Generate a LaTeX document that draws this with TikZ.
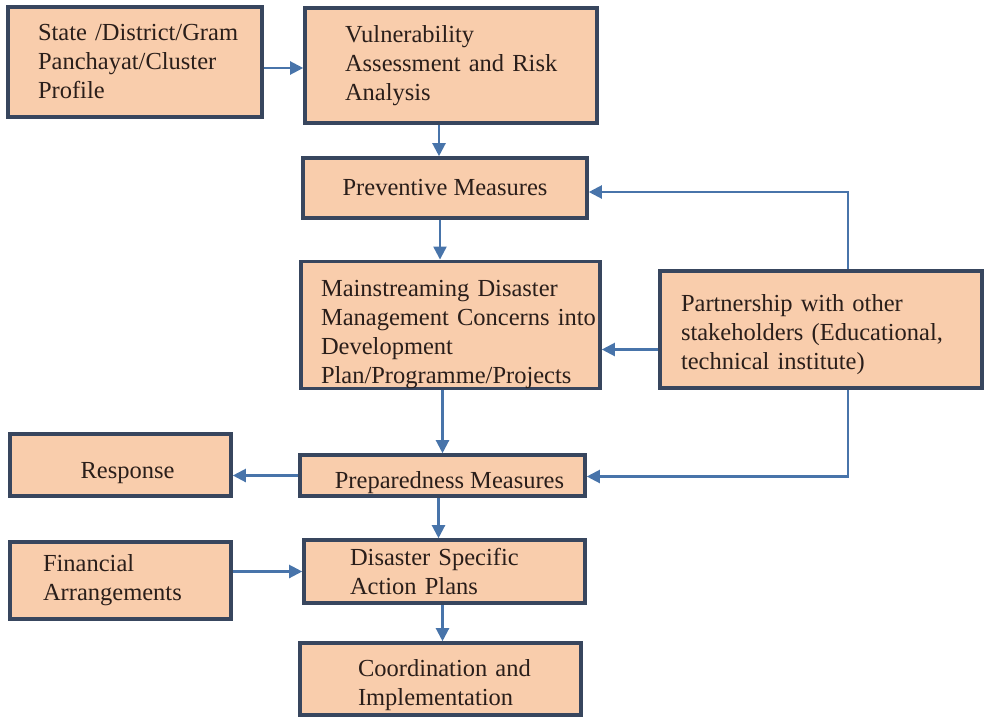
\documentclass[tikz,border=0pt]{standalone}
\usepackage{fontspec}
\setmainfont{Liberation Serif}
\usetikzlibrary{arrows.meta}
\definecolor{boxpeach}{RGB}{249,205,172}
\definecolor{edgeslate}{RGB}{56,70,94}
\definecolor{linkblue}{RGB}{72,116,170}
\definecolor{inkbrown}{RGB}{42,30,26}

\begin{document}
\begin{tikzpicture}[x=1pt, y=-1pt, font=\fontsize{24.5}{29}\selectfont,
  blk/.style={draw=edgeslate, fill=boxpeach, text=inkbrown, line width=3.6pt, inner sep=0pt, align=left},
  lpad/.style={execute at begin node={\leftskip=#1}},
  drop/.style={execute at begin node={\rule{0pt}{#1}}},
  arr/.style={draw=linkblue, line width=2.2pt, -{Triangle[length=13pt,width=13pt]}}]
\useasboundingbox (0,0) rectangle (984,718);
\node[blk, minimum height=110pt, text width=254pt, lpad=30pt] (profile) at (135,62)
  {State /District/Gram\\Panchayat/Cluster\\Profile};
\node[blk, minimum height=115pt, text width=292pt, lpad=40pt] (vuln) at (451,65.5)
  {Vulnerability\\Assessment and Risk\\Analysis};
\node[blk, minimum width=284pt, minimum height=60pt, align=center] (prev) at (445,188)
  {Preventive Measures};
\node[blk, minimum height=120pt, text width=299pt, lpad=20pt, drop=35pt] (main) at (450.5,325)
  {Mainstreaming Disaster\\Management Concerns into\\Development\\Plan/Programme/Projects};
\node[blk, minimum height=117pt, text width=322pt, lpad=21pt, drop=28pt] (partner) at (821,329.5)
  {Partnership with other\\stakeholders (Educational,\\technical institute)};
\node[blk, minimum width=221pt, minimum height=62pt, align=center, text height=26pt, text depth=0pt] (resp) at (120.5,465)
  {\hspace*{14pt}Response};
\node[blk, minimum width=285pt, minimum height=41pt, align=center, text height=25pt, text depth=0pt] (prep) at (442.5,475.5)
  {\hspace*{14pt}Preparedness Measures};
\node[blk, minimum height=77pt, text width=221pt, lpad=33pt] (fin) at (120.5,580.5)
  {Financial\\Arrangements};
\node[blk, minimum height=63pt, text width=281pt, lpad=46pt] (dsap) at (444.5,571.5)
  {Disaster Specific\\Action Plans};
\node[blk, minimum height=72pt, text width=281pt, lpad=58pt, drop=29pt] (coord) at (440.5,679)
  {Coordination and\\Implementation};
\draw[arr] ([yshift=-6pt]profile.east) -- ([yshift=-6pt]profile.east -| vuln.west);
\draw[arr] ([xshift=-6pt]vuln.south -| prev.north) -- ([xshift=-6pt]prev.north);
\draw[arr] ([xshift=-5pt]prev.south) -- ([xshift=-5pt]prev.south |- main.north);
\draw[arr] (main.south -| prep.north) -- (prep.north);
\draw[arr] ([xshift=-6pt]prep.south -| dsap.north) -- ([xshift=-6pt]dsap.north);
\draw[arr] ([xshift=-2pt]dsap.south) -- ([xshift=-2pt]dsap.south |- coord.north);
\draw[arr] (prep.west) -- (prep.west -| resp.east);
\draw[arr] (dsap.west -| fin.east) -- (dsap.west);
\draw[arr] ([yshift=-20pt]partner.west) -- ([yshift=-20pt]partner.west -| main.east);
\draw[arr] ([xshift=27pt]partner.north) |- ([yshift=-4pt]prev.east);
\draw[arr] ([xshift=27pt]partner.south) |- ([yshift=-1pt]prep.east);
\end{tikzpicture}
\end{document}
